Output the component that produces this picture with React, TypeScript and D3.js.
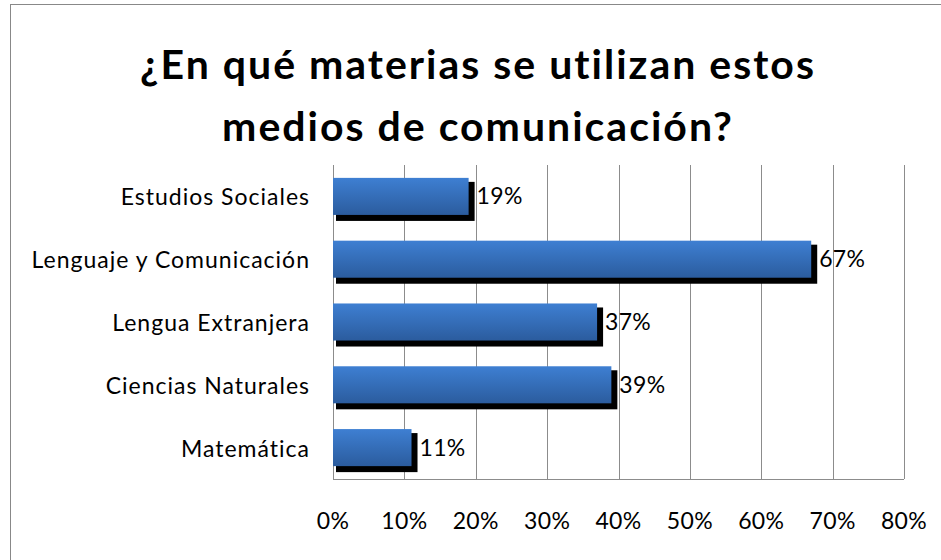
import React from "react";
import * as d3 from "d3";

const categories = ["Estudios Sociales", "Lenguaje y Comunicación", "Lengua Extranjera", "Ciencias Naturales", "Matemática"];
const values = [0.19, 0.67, 0.37, 0.39, 0.11];
const ticks = [0, 0.1, 0.2, 0.3, 0.4, 0.5, 0.6, 0.7, 0.8];
const titleLines = ["¿En qué materias se utilizan estos", "medios de comunicación?"];

const W = 941, H = 560;
const left = 333, right = 904, top = 165, bottom = 479;

export default function App() {
  const x = d3.scaleLinear().domain([0, 0.8]).range([left, right]);
  const y = d3.scaleBand().domain(categories).range([top, bottom]).paddingInner(0.41).paddingOuter(0.205);
  const fmt = d3.format(".0%");
  const font = "Lato, 'Open Sans', sans-serif";
  return (
    <div style={{ position: "fixed", left: 0, top: 0 }}>
      <svg width={W} height={H} style={{ display: "block", background: "#fff" }}>
        <defs>
          <linearGradient id="bg" x1="0" y1="0" x2="0" y2="1">
            <stop offset="0" stopColor="#3E7FD2" />
            <stop offset="1" stopColor="#2B5C9E" />
          </linearGradient>
        </defs>
        <rect x={10.5} y={4.5} width={W} height={H} fill="#fff" stroke="#888" strokeWidth={1} />
        {titleLines.map((t, i) => (
          <text key={i} x={478} y={79 + i * 62} textAnchor="middle" fontFamily={font} fontWeight="bold" fontSize={41} letterSpacing={2} fill="#000">{t}</text>
        ))}
        {ticks.map((t) => (
          <line key={"g" + t} x1={Math.round(x(t)) + 0.5} x2={Math.round(x(t)) + 0.5} y1={top} y2={bottom} stroke="#8c8c8c" strokeWidth={1} />
        ))}
        <line x1={left} x2={right} y1={bottom + 0.5} y2={bottom + 0.5} stroke="#8c8c8c" strokeWidth={1} />
        {categories.map((c, i) => {
          const bx = x(0), bw = x(values[i]) - x(0), by = y(c)!, bh = y.bandwidth();
          return (
            <g key={c}>
              <rect x={bx + 3} y={by + 4} width={bw + 3} height={bh + 2} fill="#000" />
              <rect x={bx} y={by} width={bw} height={bh} fill="url(#bg)" />
              <text x={x(values[i]) + 8} y={by + bh / 2 + 8} fontFamily={font} fontSize={23} letterSpacing={0.3} fill="#000">{fmt(values[i])}</text>
              <text x={310} y={by + bh / 2 + 9} textAnchor="end" fontFamily={font} fontSize={23} letterSpacing={1} fill="#000">{c}</text>
            </g>
          );
        })}
        {ticks.map((t) => (
          <text key={"t" + t} x={x(t)} y={529} textAnchor="middle" fontFamily={font} fontSize={23} letterSpacing={0.3} fill="#000">{fmt(t)}</text>
        ))}
      </svg>
    </div>
  );
}
